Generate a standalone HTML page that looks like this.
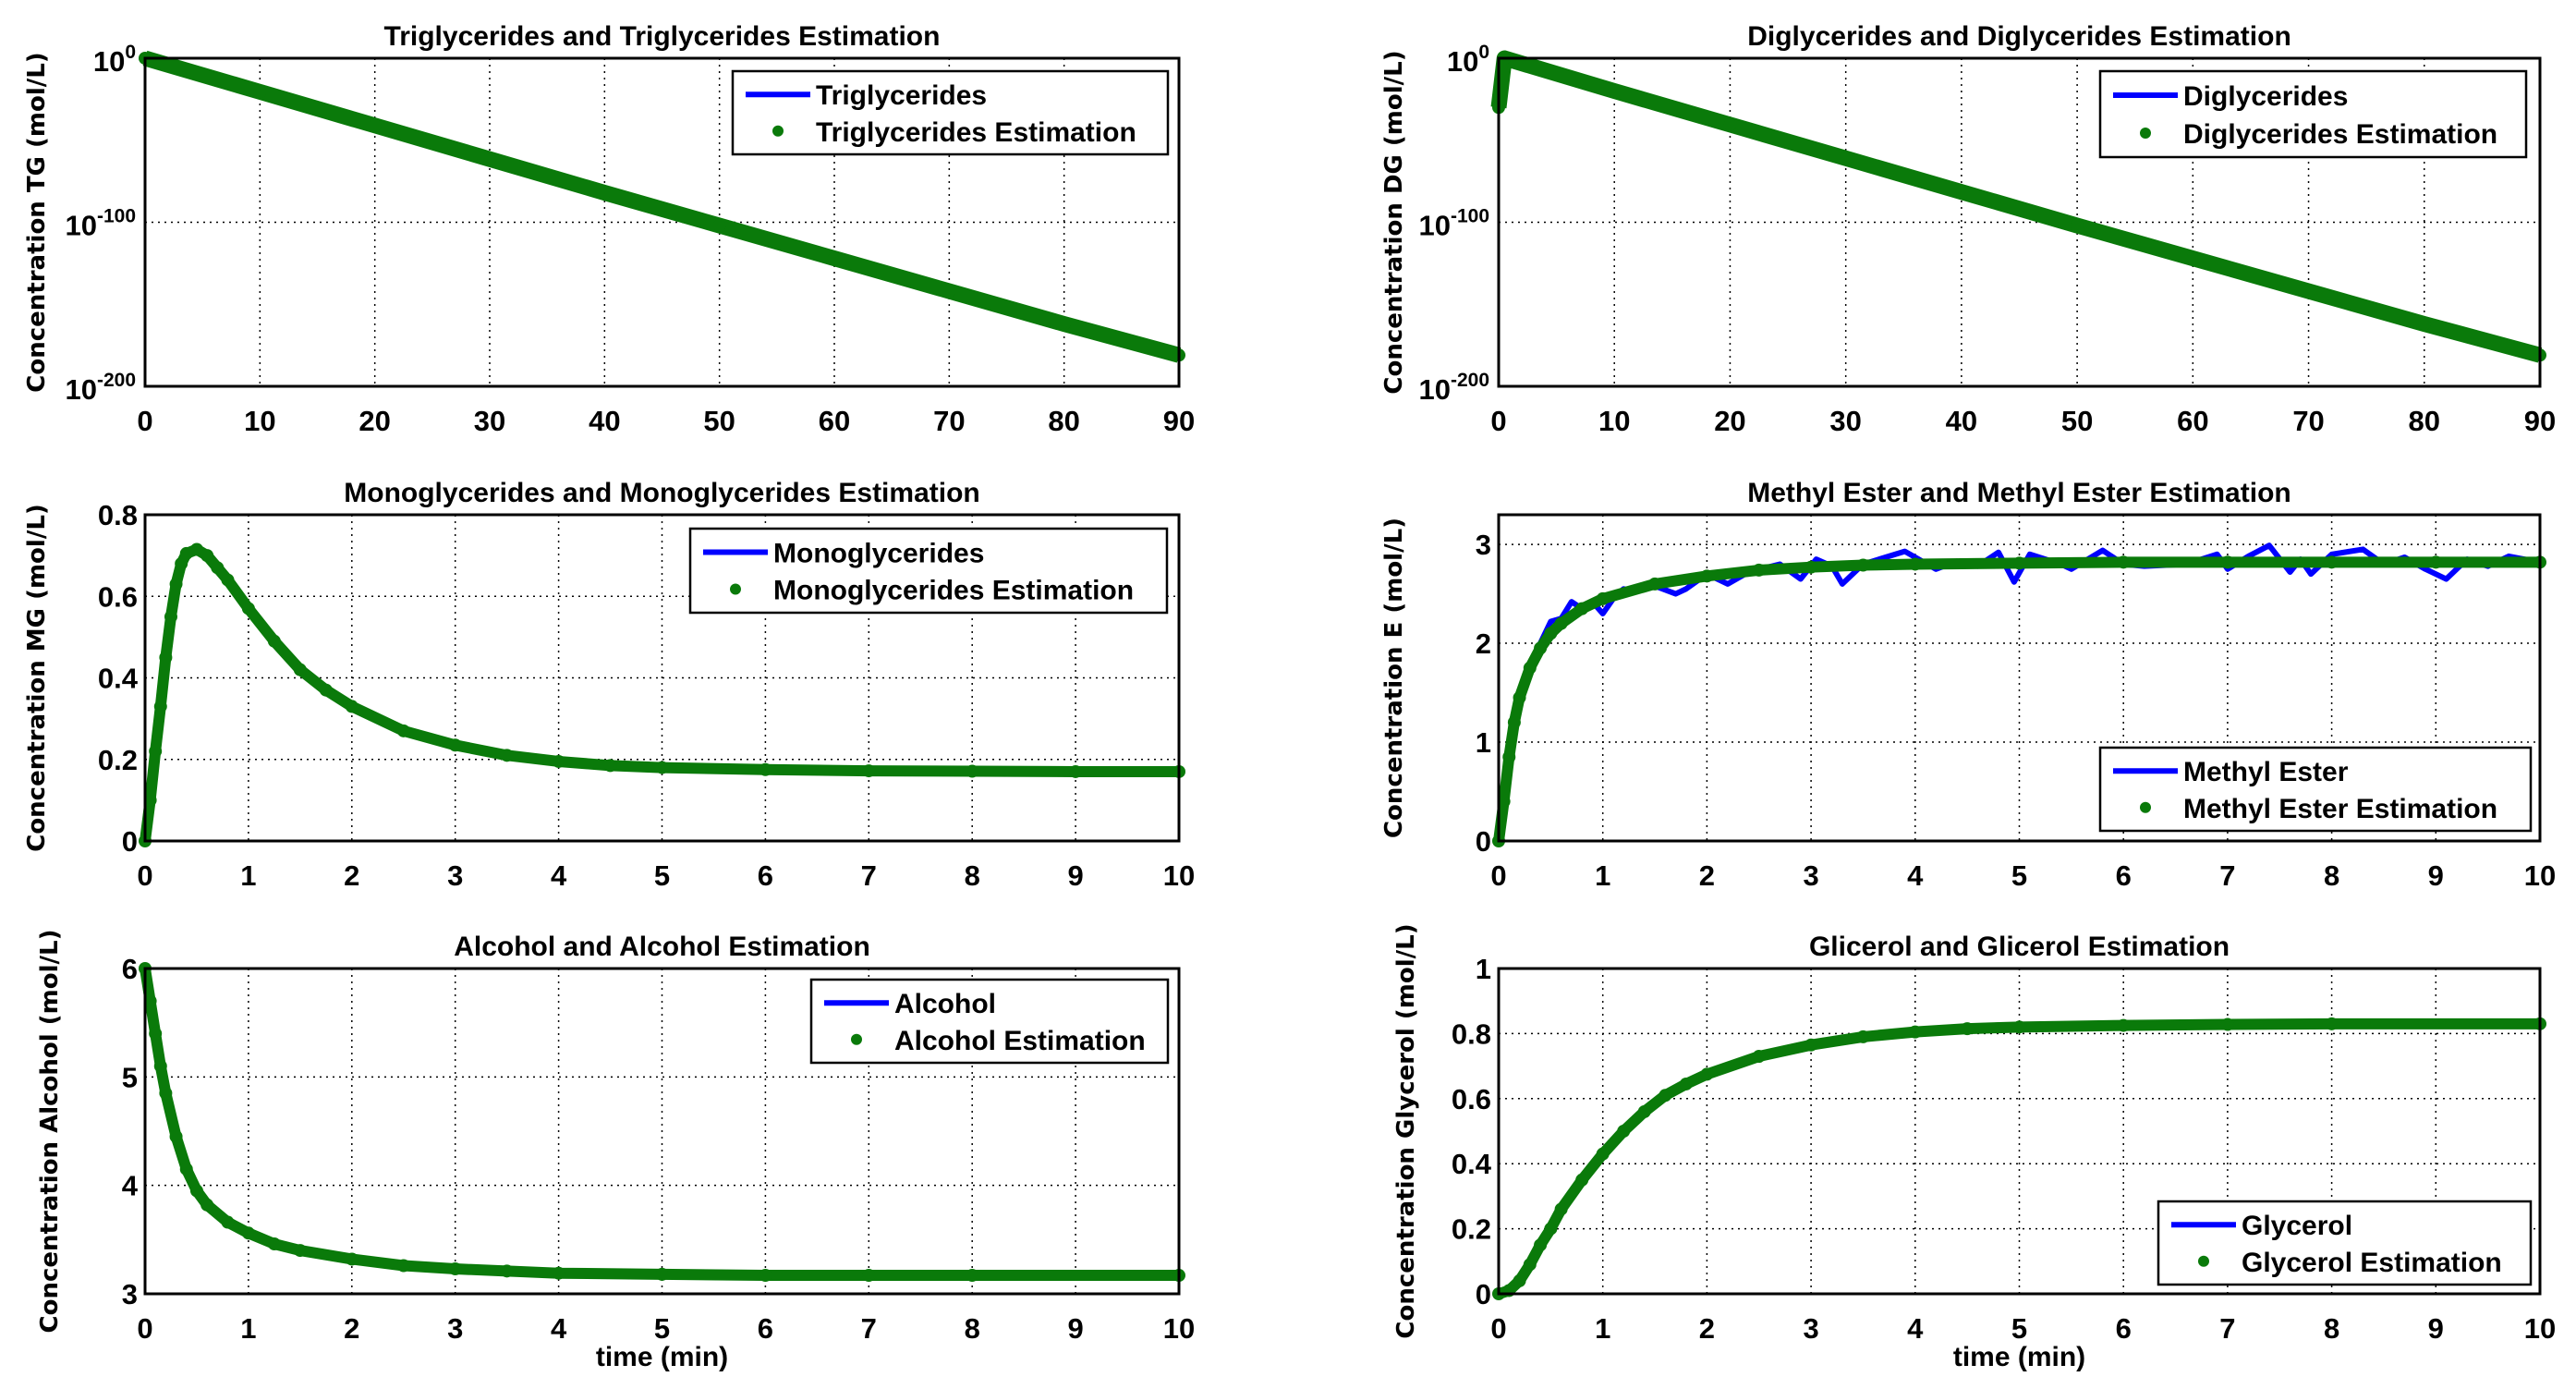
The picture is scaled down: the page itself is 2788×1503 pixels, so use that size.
<!DOCTYPE html>
<html><head><meta charset="utf-8"><style>
html,body{margin:0;padding:0;background:#fff;}
svg{display:block;}
text{font-family:"Liberation Sans Narrow","Liberation Sans",sans-serif;font-weight:bold;fill:#000;}
.yl{font-family:"DejaVu Sans","Liberation Sans",sans-serif;font-weight:bold;}
</style></head><body>
<svg id="fig" width="2788" height="1503" viewBox="0 0 2788 1503" xmlns="http://www.w3.org/2000/svg"></svg>
<script>
// ---- data ----
const tgX = [0,10,20,30,40,50,60,70,80,90];
const tgExp = [0,-20.5,-41,-61.5,-82,-102,-122,-142,-162,-181];
const dgX = [0,0.5,10,20,30,40,50,60,70,80,90];
const dgExp = [-30,0,-20,-40.5,-61,-81.5,-102,-122,-142,-162,-181];
const mgX = [0,0.05,0.1,0.15,0.2,0.25,0.3,0.35,0.4,0.5,0.6,0.7,0.8,1,1.25,1.5,1.75,2,2.5,3,3.5,4,4.5,5,6,7,8,9,10];
const mgY = [0,0.1,0.22,0.33,0.45,0.55,0.63,0.68,0.705,0.715,0.70,0.67,0.64,0.57,0.49,0.42,0.37,0.33,0.27,0.235,0.21,0.195,0.185,0.18,0.175,0.172,0.171,0.17,0.17];
const eX = [0,0.05,0.1,0.15,0.2,0.3,0.4,0.5,0.6,0.8,1,1.5,2,2.5,3,3.5,4,5,6,7,8,9,10];
const eY = [0,0.4,0.85,1.2,1.45,1.75,1.95,2.1,2.2,2.35,2.45,2.6,2.68,2.74,2.77,2.79,2.8,2.81,2.82,2.82,2.82,2.82,2.82];
const eMeasX = [0,0.05,0.1,0.15,0.2,0.3,0.4,0.5,0.6,0.7,0.8,0.9,1.0,1.1,1.2,1.3,1.5,1.7,1.8,2.0,2.2,2.4,2.7,2.9,3.05,3.2,3.3,3.5,3.9,4.2,4.4,4.6,4.8,4.95,5.1,5.4,5.5,5.8,6.0,6.2,6.6,6.9,7.0,7.2,7.4,7.6,7.7,7.8,8.0,8.3,8.5,8.7,8.9,9.1,9.3,9.5,9.7,10];
const eMeasY = [0,0.45,0.9,1.25,1.5,1.8,2.0,2.22,2.25,2.42,2.35,2.42,2.3,2.45,2.55,2.52,2.58,2.5,2.55,2.7,2.6,2.72,2.8,2.65,2.85,2.78,2.6,2.8,2.93,2.75,2.83,2.78,2.92,2.62,2.9,2.8,2.75,2.94,2.8,2.78,2.8,2.9,2.75,2.88,2.99,2.72,2.85,2.7,2.9,2.95,2.8,2.87,2.75,2.65,2.85,2.78,2.88,2.82];
const alX = [0,0.05,0.1,0.15,0.2,0.3,0.4,0.5,0.6,0.8,1,1.25,1.5,2,2.5,3,3.5,4,5,6,7,8,10];
const alY = [6,5.7,5.4,5.1,4.85,4.45,4.15,3.95,3.82,3.66,3.56,3.46,3.4,3.32,3.26,3.23,3.21,3.19,3.18,3.17,3.17,3.17,3.17];
const glX = [0,0.1,0.2,0.3,0.4,0.5,0.6,0.8,1,1.2,1.4,1.6,1.8,2,2.5,3,3.5,4,4.5,5,6,7,8,10];
const glY = [0,0.01,0.04,0.09,0.15,0.2,0.26,0.35,0.43,0.5,0.56,0.61,0.645,0.675,0.73,0.765,0.79,0.805,0.815,0.82,0.825,0.828,0.83,0.83];
const tgXTicks = [0,10,20,30,40,50,60,70,80,90];
const tXTicks = [0,1,2,3,4,5,6,7,8,9,10];
const logTicks = [0,-100,-200];
const mgTicks = [0,0.2,0.4,0.6,0.8];
const eTicks = [0,1,2,3];
const alTicks = [3,4,5,6];
const glTicks = [0,0.2,0.4,0.6,0.8,1];

const NS="http://www.w3.org/2000/svg";
const svg=document.getElementById('fig');
function mk(tag,attrs,parent,text){const e=document.createElementNS(NS,tag);for(const k in attrs)e.setAttribute(k,attrs[k]);if(text!==undefined)e.textContent=text;(parent||svg).appendChild(e);return e;}

function plot(o){
  const g=mk('g',{});
  
  
  const L=o.box[0],T=o.box[1],R=o.box[2],B=o.box[3];
  const sx=v=>L+(v-o.xr[0])/(o.xr[1]-o.xr[0])*(R-L);
  const sy=v=>B-(v-o.yr[0])/(o.yr[1]-o.yr[0])*(B-T);
  o.xt.forEach(v=>{const x=sx(v);
    if(v!==o.xr[0]&&v!==o.xr[1]){const l=mk('line',{x1:x,x2:x,y1:T,y2:B,stroke:'#000','stroke-width':1.5,'stroke-dasharray':'2 5'},g);
      }
    const t=mk('text',{x:x,y:B+48,'font-size':31,'text-anchor':'middle'},g,String(v));
    
  });
  o.yt.forEach(v=>{const y=sy(v);
    if(v!==o.yr[0]&&v!==o.yr[1]){const l=mk('line',{x1:L,x2:R,y1:y,y2:y,stroke:'#000','stroke-width':1.5,'stroke-dasharray':'2 5'},g);
      }
    let t;
    if(o.log){t=mk('text',{x:L-10,y:y+14,'font-size':31,'text-anchor':'end'},g);
      mk('tspan',{},t,'10');mk('tspan',{dy:-14,'font-size':21},t,String(v));}
    else t=mk('text',{x:L-8,y:y+11,'font-size':31,'text-anchor':'end'},g,String(v));
    
  });
  if(o.mx){const p=mk('polyline',{points:o.mx.map((x,i)=>sx(x)+','+sy(o.my[i])).join(' '),fill:'none',stroke:'#0000ff','stroke-width':6,'stroke-linejoin':'round'},g);
    }
  const pe=mk('polyline',{points:o.ex.map((x,i)=>sx(x)+','+sy(o.ey[i])).join(' '),fill:'none',stroke:'#0a7a0a','stroke-width':o.band||12,'stroke-linejoin':'round'},g);
  
  o.ex.forEach((x,i)=>{const c=mk('circle',{cx:sx(x),cy:sy(o.ey[i]),r:7,fill:'#0a7a0a'},g);
    });
  const r=mk('rect',{x:L,y:T,width:R-L,height:B-T,fill:'none',stroke:'#000','stroke-width':3},g);
  
  const tt=mk('text',{x:(L+R)/2,y:T-14,'font-size':30,'text-anchor':'middle'},g,o.title);
  
  const yl=mk('text',{class:'yl',x:0,y:0,'font-size':26,'text-anchor':'middle',transform:`translate(${o.ylx},${(T+B)/2}) rotate(-90)`},g,o.ylabel);
  
  if(o.xlabel){const xl=mk('text',{x:(L+R)/2,y:B+78,'font-size':30,'text-anchor':'middle'},g,o.xlabel);
    }
  const [lx,ly,lr,lb]=o.leg;
  const lg=mk('g',{},g);
  
  mk('rect',{x:lx,y:ly,width:lr-lx,height:lb-ly,fill:'#fff',stroke:'#000','stroke-width':2.5},lg);
  const h=lb-ly;
  mk('line',{x1:lx+14,x2:lx+84,y1:ly+h*0.28,y2:ly+h*0.28,stroke:'#0000ff','stroke-width':6},lg);
  const e1=mk('text',{x:lx+90,y:ly+h*0.28+11,'font-size':30},lg,o.legA);
  
  mk('circle',{cx:lx+49,cy:ly+h*0.72,r:6,fill:'#0a7a0a'},lg);
  const e2=mk('text',{x:lx+90,y:ly+h*0.72+11,'font-size':30},lg,o.legB);
  
}

const Lc=[157,1276], Rc=[1622,2749];
plot({name:'triglycerides-plot',box:[Lc[0],63,Lc[1],418],xr:[0,90],yr:[-200,0],log:true,xt:tgXTicks,yt:logTicks,
  mx:tgX,my:tgExp,ex:tgX,ey:tgExp,band:17,title:'Triglycerides and Triglycerides Estimation',ylabel:'Concentration TG (mol/L)',ylx:48,
  leg:[793,77,1264,167],legA:'Triglycerides',legB:'Triglycerides Estimation'});
plot({name:'diglycerides-plot',box:[Rc[0],63,Rc[1],418],xr:[0,90],yr:[-200,0],log:true,xt:tgXTicks,yt:logTicks,
  mx:dgX,my:dgExp,ex:dgX,ey:dgExp,band:17,title:'Diglycerides and Diglycerides Estimation',ylabel:'Concentration DG (mol/L)',ylx:1517,
  leg:[2273,77,2734,170],legA:'Diglycerides',legB:'Diglycerides Estimation'});
plot({name:'monoglycerides-plot',box:[Lc[0],557,Lc[1],910],xr:[0,10],yr:[0,0.8],xt:tXTicks,yt:mgTicks,
  mx:mgX,my:mgY,ex:mgX,ey:mgY,title:'Monoglycerides and Monoglycerides Estimation',ylabel:'Concentration MG (mol/L)',ylx:48,
  leg:[747,572,1263,663],legA:'Monoglycerides',legB:'Monoglycerides Estimation'});
plot({name:'methyl-ester-plot',box:[Rc[0],557,Rc[1],910],xr:[0,10],yr:[0,3.3],xt:tXTicks,yt:eTicks,
  mx:eMeasX,my:eMeasY,ex:eX,ey:eY,title:'Methyl Ester and Methyl Ester Estimation',ylabel:'Concentration E (mol/L)',ylx:1517,
  leg:[2273,809,2739,899],legA:'Methyl Ester',legB:'Methyl Ester Estimation'});
plot({name:'alcohol-plot',box:[Lc[0],1048,Lc[1],1400],xr:[0,10],yr:[3,6],xt:tXTicks,yt:alTicks,
  mx:alX,my:alY,ex:alX,ey:alY,title:'Alcohol and Alcohol Estimation',ylabel:'Concentration Alcohol (mol/L)',ylx:62,xlabel:'time (min)',
  leg:[878,1060,1264,1150],legA:'Alcohol',legB:'Alcohol Estimation'});
plot({name:'glycerol-plot',box:[Rc[0],1048,Rc[1],1400],xr:[0,10],yr:[0,1],xt:tXTicks,yt:glTicks,
  mx:glX,my:glY,ex:glX,ey:glY,title:'Glicerol and Glicerol Estimation',ylabel:'Concentration Glycerol  (mol/L)',ylx:1530,xlabel:'time (min)',
  leg:[2336,1300,2739,1390],legA:'Glycerol',legB:'Glycerol Estimation'});
</script>
</body></html>
